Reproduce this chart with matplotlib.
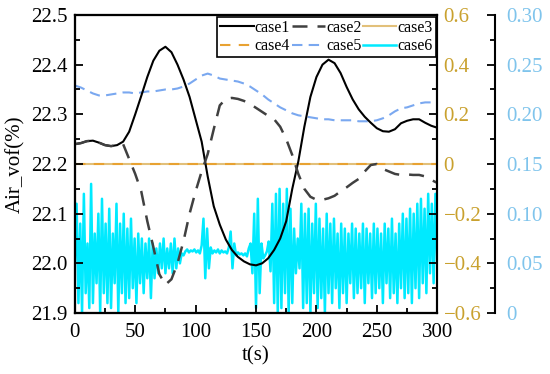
import numpy as np
import matplotlib
matplotlib.use("Agg")
import matplotlib.pyplot as plt
from matplotlib.ticker import MultipleLocator, FuncFormatter

plt.rcParams['font.family'] = ['Liberation Serif', 'DejaVu Serif']
plt.rcParams['mathtext.fontset'] = 'stix'

# time grid for the smooth cases (s)
t = [0, 5, 10, 15, 20, 25, 30, 35, 40, 45, 50, 55, 60, 65, 70, 75, 80, 85, 90, 95,
     100, 105, 110, 115, 120, 125, 130, 135, 140, 145, 150, 155, 160, 165, 170, 175,
     180, 185, 190, 195, 200, 205, 210, 215, 220, 225, 230, 235, 240, 245, 250, 255,
     260, 265, 270, 275, 280, 285, 290, 295, 300]

# case1, left axis
case1 = [22.240, 22.242, 22.246, 22.247, 22.243, 22.238, 22.236, 22.238, 22.245, 22.265,
         22.300, 22.337, 22.375, 22.408, 22.428, 22.436, 22.425, 22.400, 22.370, 22.335,
         22.290, 22.245, 22.175, 22.115, 22.078, 22.048, 22.027, 22.013, 22.004, 21.998,
         21.996, 22.000, 22.010, 22.027, 22.050, 22.085, 22.150, 22.205, 22.275, 22.335,
         22.375, 22.400, 22.410, 22.403, 22.383, 22.355, 22.330, 22.310, 22.295, 22.283,
         22.272, 22.266, 22.265, 22.270, 22.282, 22.287, 22.290, 22.290, 22.283, 22.277,
         22.273]

# case2, left axis
case2 = [22.240, 22.242, 22.246, 22.247, 22.243, 22.238, 22.236, 22.238, 22.240, 22.210,
         22.180, 22.145, 22.085, 22.033, 21.978, 21.957, 21.968, 22.000, 22.045, 22.100,
         22.145, 22.185, 22.220, 22.270, 22.318, 22.331, 22.333, 22.331, 22.327, 22.321,
         22.313, 22.305, 22.297, 22.290, 22.275, 22.250, 22.218, 22.180, 22.150, 22.134,
         22.128, 22.128, 22.131, 22.136, 22.145, 22.153, 22.162, 22.170, 22.185, 22.198,
         22.200, 22.190, 22.185, 22.180, 22.178, 22.179, 22.178, 22.178, 22.175, 22.168,
         22.162]

# case3 / case4, right axis (orange)
case3 = [0.0] * len(t)
case4 = [0.0] * len(t)

# case5, second right axis (cyan)
case5 = [0.229, 0.227, 0.224, 0.221, 0.219, 0.219, 0.220, 0.221, 0.222, 0.222,
         0.221, 0.222, 0.223, 0.223, 0.224, 0.225, 0.225, 0.226, 0.228, 0.231,
         0.235, 0.239, 0.241, 0.239, 0.236, 0.235, 0.234, 0.233, 0.231, 0.228,
         0.224, 0.220, 0.215, 0.211, 0.207, 0.204, 0.201, 0.199, 0.198, 0.197,
         0.196, 0.195, 0.195, 0.194, 0.194, 0.194, 0.194, 0.193, 0.193, 0.193,
         0.194, 0.196, 0.199, 0.203, 0.206, 0.207, 0.209, 0.211, 0.212, 0.212,
         0.211]

# case6, second right axis (cyan), sampled every 1.5 s
case6 = [0.050, 0.110, 0.010, 0.090, 0.000, 0.120, 0.020, 0.070, 0.005, 0.130,
         0.010, 0.080, 0.030, 0.100, 0.000, 0.115, 0.020, 0.090, 0.010, 0.105,
         0.005, 0.080, 0.030, 0.110, 0.000, 0.090, 0.020, 0.100, 0.010, 0.085,
         0.015, 0.095, 0.025, 0.075, 0.010, 0.080, 0.030, 0.075, 0.020, 0.070,
         0.035, 0.075, 0.015, 0.070, 0.035, 0.065, 0.040, 0.070, 0.045, 0.075,
         0.040, 0.065, 0.045, 0.070, 0.040, 0.075, 0.045, 0.065, 0.050, 0.060,
         0.058, 0.062, 0.064, 0.061, 0.063, 0.062, 0.064, 0.061, 0.063, 0.060,
         0.068, 0.095, 0.035, 0.085, 0.045, 0.066, 0.060, 0.063, 0.061, 0.064,
         0.060, 0.063, 0.061, 0.062, 0.060, 0.066, 0.082, 0.045, 0.070, 0.058,
         0.061, 0.059, 0.060, 0.058, 0.060, 0.057, 0.065, 0.070, 0.040, 0.100,
         0.005, 0.115, 0.020, 0.070, 0.055, 0.058, 0.062, 0.072, 0.042, 0.110,
         0.010, 0.120, 0.000, 0.125, 0.005, 0.110, 0.020, 0.125, 0.000, 0.105,
         0.010, 0.085, 0.040, 0.075, 0.045, 0.110, 0.005, 0.100, 0.010, 0.105,
         0.000, 0.090, 0.020, 0.110, 0.005, 0.095, 0.015, 0.085, 0.000, 0.100,
         0.020, 0.090, 0.010, 0.095, 0.025, 0.080, 0.005, 0.090, 0.020, 0.085,
         0.010, 0.080, 0.030, 0.090, 0.015, 0.085, 0.020, 0.080, 0.025, 0.090,
         0.010, 0.085, 0.030, 0.080, 0.015, 0.090, 0.020, 0.085, 0.025, 0.080,
         0.010, 0.090, 0.030, 0.085, 0.015, 0.095, 0.020, 0.080, 0.010, 0.090,
         0.025, 0.100, 0.015, 0.095, 0.020, 0.105, 0.010, 0.100, 0.025, 0.110,
         0.015, 0.115, 0.030, 0.105, 0.020, 0.120, 0.040, 0.110, 0.030, 0.120,
         0.050]
t6 = np.linspace(0, 300, len(case6))

ORANGE = '#c9a12e'
CYAN_TXT = '#7fc4ec'

fig = plt.figure(figsize=(5.5, 3.74), dpi=100)
ax = fig.add_axes([0.136, 0.163, 0.659, 0.797])
ax2 = ax.twinx()
ax3 = ax.twinx()
ax3.spines['right'].set_position(('axes', 1.16))

# draw order: noisy cyan at the back
l6, = ax3.plot(t6, case6, color='#00eaff', lw=1.8, label='case6')
l5, = ax3.plot(t, case5, color='#7aa8f0', lw=1.5, ls=(0, (5, 3)), label='case5')
l3, = ax2.plot(t, case3, color='#e2c07a', lw=1.5, label='case3')
l4, = ax2.plot(t, case4, color='#e8a232', lw=1.5, ls=(0, (5, 4)), label='case4')
l1, = ax.plot(t, case1, color='black', lw=1.5, label='case1')
l2, = ax.plot(t, case2, color='#404040', lw=1.8, ls=(0, (6, 4)), label='case2')
ax.set_zorder(ax3.get_zorder() + 2)
ax2.set_zorder(ax3.get_zorder() + 1)
ax.patch.set_visible(False)
ax2.patch.set_visible(False)

ax.set_xlim(0, 300)
ax.set_ylim(21.9, 22.5)
ax2.set_ylim(-0.6, 0.6)
ax3.set_ylim(0, 0.30)

ax.xaxis.set_major_locator(MultipleLocator(50))
ax.xaxis.set_minor_locator(MultipleLocator(25))
ax.yaxis.set_major_locator(MultipleLocator(0.1))
ax.yaxis.set_minor_locator(MultipleLocator(0.05))
ax.yaxis.set_major_formatter(FuncFormatter(lambda v, p: f'{v:.1f}'))
ax2.yaxis.set_major_locator(MultipleLocator(0.2))
ax2.yaxis.set_minor_locator(MultipleLocator(0.1))
ax2.yaxis.set_major_formatter(FuncFormatter(
    lambda v, p: '0' if abs(v) < 1e-9 else f'{v:.1f}'.replace('-', '\u2212')))
ax3.yaxis.set_major_locator(MultipleLocator(0.05))
ax3.yaxis.set_minor_locator(MultipleLocator(0.025))
ax3.yaxis.set_major_formatter(FuncFormatter(
    lambda v, p: '0' if abs(v) < 1e-9 else f'{v:.2f}'))

for a in (ax, ax2, ax3):
    for s in a.spines.values():
        s.set_linewidth(1.5)
ax.tick_params(which='both', direction='in', width=1.3, labelsize=15)
ax.tick_params(axis='y', pad=5.5)
ax.tick_params(axis='x', pad=7)
ax.tick_params(which='major', length=6)
ax.tick_params(which='minor', length=3.5)
ax2.tick_params(which='both', direction='in', width=1.3, labelsize=15,
                labelcolor=ORANGE, pad=4.5)
ax2.tick_params(which='major', length=6)
ax2.tick_params(which='minor', length=3.5)
ax3.tick_params(which='both', direction='in', width=1.3, labelsize=15,
                labelcolor=CYAN_TXT, pad=8)
ax3.tick_params(which='major', length=6)
ax3.tick_params(which='minor', length=3.5)

ax.set_xlabel('t(s)', fontsize=15, labelpad=3)
ax.set_ylabel('Air_vof(%)', fontsize=15, labelpad=4)

handles = [l1, l4, l2, l5, l3, l6]
leg = ax.legend(handles=handles, labels=[h.get_label() for h in handles],
                ncol=3, loc='upper right', bbox_to_anchor=(1.0, 1.0),
                borderaxespad=0.1, fontsize=11.5, frameon=True, fancybox=False,
                edgecolor='black', handlelength=2.1, handletextpad=0.05,
                columnspacing=0.1, borderpad=0.2, labelspacing=0.15)
leg.get_frame().set_linewidth(1.2)
leg.get_frame().set_alpha(1)

fig.savefig('out.png', dpi=100)
